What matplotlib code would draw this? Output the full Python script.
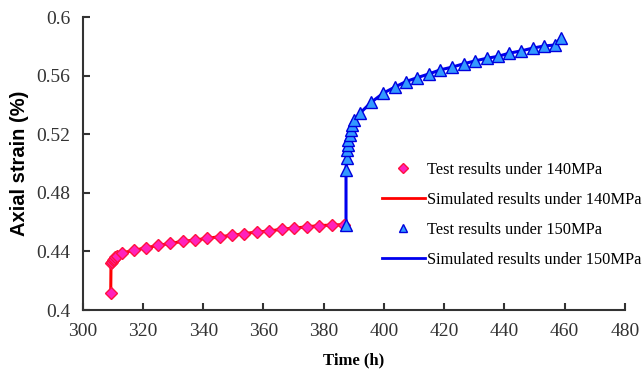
import numpy as np
from matplotlib import pyplot as plt

# test data, 140 MPa stage
t140 = [309.3, 309.4, 309.6, 309.9, 310.3, 310.8, 311.5, 313.2, 317.0, 321.0,
        325.0, 329.1, 333.2, 337.3, 341.4, 345.5, 349.6, 353.7, 357.8, 362.0,
        366.1, 370.2, 374.4, 378.5, 382.7, 386.8]
e140 = [0.4115, 0.4322, 0.4330, 0.4340, 0.4350, 0.4360, 0.4372, 0.4391, 0.4407, 0.4425,
        0.4441, 0.4455, 0.4469, 0.4478, 0.4490, 0.4501, 0.4510, 0.4522, 0.4533, 0.4540,
        0.4552, 0.4560, 0.4568, 0.4577, 0.4580, 0.4584]

# test data, 150 MPa stage
t150 = [387.4, 387.4, 387.6, 387.8, 388.0, 388.2, 388.6, 388.9, 389.3, 390.2,
        392.1, 395.8, 399.8, 403.6, 407.3, 411.1, 414.9, 418.7, 422.5, 426.4,
        430.2, 434.1, 437.8, 441.6, 445.4, 449.3, 453.1, 456.8, 458.6]
e150 = [0.4584, 0.4959, 0.5039, 0.5095, 0.5130, 0.5164, 0.5198, 0.5232, 0.5266, 0.5300,
        0.5346, 0.5420, 0.5482, 0.5523, 0.5561, 0.5588, 0.5613, 0.5641, 0.5659, 0.5682,
        0.5702, 0.5720, 0.5733, 0.5755, 0.5770, 0.5789, 0.5804, 0.5811, 0.5857]

xticks = np.arange(300, 481, 20)
yticks = [0.4, 0.44, 0.48, 0.52, 0.56, 0.6]
ytick_labels = ['0.4', '0.44', '0.48', '0.52', '0.56', '0.6']

serif = 'Liberation Serif'

fig = plt.figure(figsize=(6.44, 3.73), dpi=100)
ax = fig.add_axes([0.1284, 0.1689, 0.9705 - 0.1284, 0.9536 - 0.1689])

ax.plot(t140, e140, color='#ff0000', lw=2.2, zorder=2)
ax.plot(t150, e150, color='#0000ee', lw=2.2, zorder=2)
ax.plot(t140, e140, ls='none', marker='D', ms=6, mfc='#ff22bb', mec='#ff1040',
        mew=1, zorder=3)
ax.plot(t150, e150, ls='none', marker='^', ms=8, mfc='#3399ff', mec='#0000dd',
        mew=1, zorder=3)

# legend handles
h1, = ax.plot([], [], ls='none', marker='D', ms=5, mfc='#ff22bb', mec='#ff1040')
h2, = ax.plot([], [], color='#ff0000', lw=2)
h3, = ax.plot([], [], ls='none', marker='^', ms=6, mfc='#3399ff', mec='#0000dd')
h4, = ax.plot([], [], color='#0000ee', lw=2)
fig.legend([h1, h2, h3, h4],
           ['Test results under 140MPa', 'Simulated results under 140MPa',
            'Test results under 150MPa', 'Simulated results under 150MPa'],
           loc='center left', bbox_to_anchor=(381.7 / 644, 1 - 215 / 373),
           frameon=False, borderpad=0, borderaxespad=0, handlelength=2.65,
           handletextpad=0.12, labelspacing=0.86,
           prop={'family': serif, 'size': 11.8})

ax.set_xlim(300, 480)
ax.set_ylim(0.4, 0.6)
ax.set_xticks(xticks)
ax.set_yticks(yticks)
ax.set_yticklabels(ytick_labels)
for lab in ax.get_xticklabels() + ax.get_yticklabels():
    lab.set_family(serif)
    lab.set_fontsize(14)
    lab.set_color('#333333')

ax.tick_params(direction='in', length=5, width=1.5, color='#333333')
ax.tick_params(axis='y', pad=9)
ax.tick_params(axis='x', pad=9)
for s in ['top', 'right']:
    ax.spines[s].set_visible(False)
for s in ['left', 'bottom']:
    ax.spines[s].set_linewidth(1.5)
    ax.spines[s].set_color('#333333')

ax.set_xlabel('Time (h)', fontfamily=serif, fontweight='bold', fontsize=12, labelpad=9)
ax.set_ylabel('Axial strain (%)', fontfamily='Liberation Sans', fontweight='bold',
              fontsize=14.5, labelpad=5)

fig.savefig('out.png', dpi=100)
